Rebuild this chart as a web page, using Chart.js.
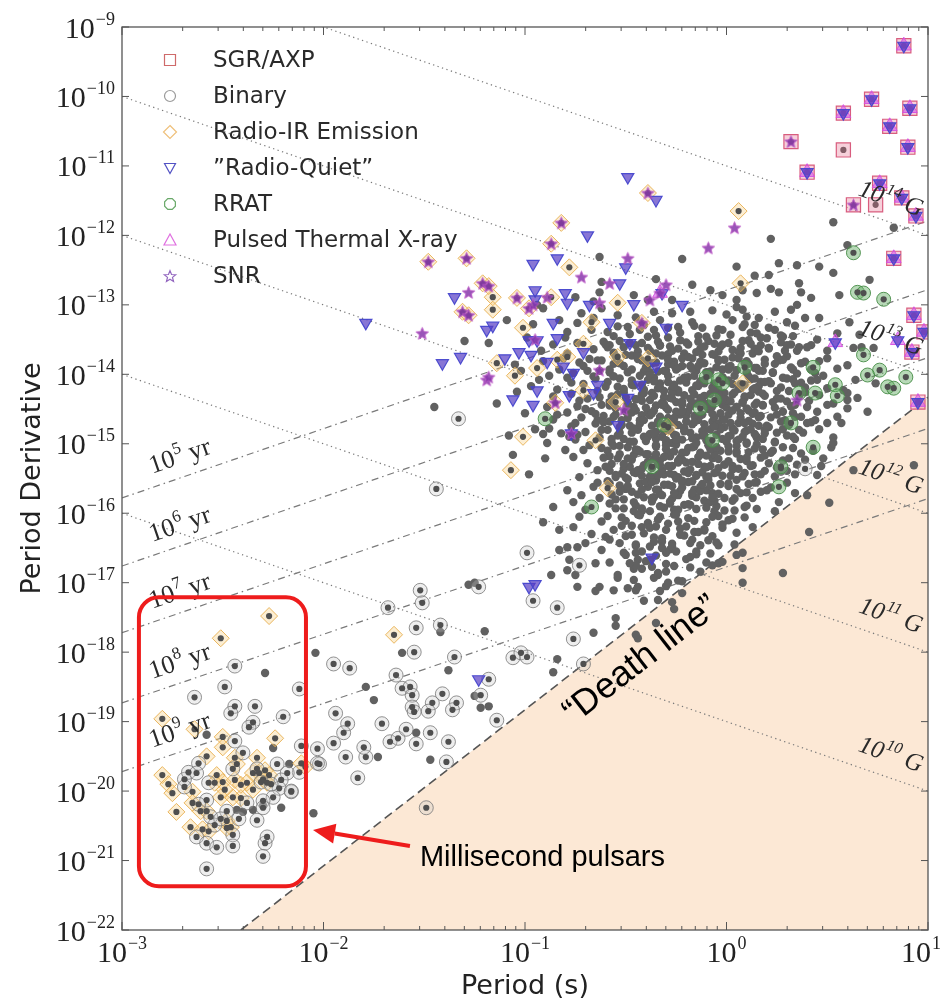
<!DOCTYPE html>
<html>
<head>
<meta charset="utf-8">
<script src="https://cdn.jsdelivr.net/npm/chart.js@4.4.1/dist/chart.umd.min.js"></script>
<style>
  html, body { margin: 0; padding: 0; background: #fff; }
  canvas { display: block; }
</style>
</head>
<body>
<canvas id="ppdot" width="943" height="1002"></canvas>
<script>
// All coordinates below are [log10 P (s), log10 Pdot (s/s)].

const periodDecades = [-3, -2, -1, 0, 1];
const pdotDecades = [-9, -10, -11, -12, -13, -14, -15, -16, -17, -18, -19, -20, -21, -22];

// constant magnetic field lines: log10(P * Pdot)
const fieldExponents = [14, 13, 12, 11, 10];
const fieldProducts = [-11, -13, -15, -17, -19];

// characteristic age lines: log10 Pdot at P = 1 ms and at P = 10 s
const ageExponents = [5, 6, 7, 8, 9];
const ageLeft = [-15.78, -16.76, -17.72, -18.73, -19.72];
const ageRight = [-11.79, -12.78, -13.76, -14.78, -15.79];

// pulsar death line end points
const deathLine = [[-2.41, -22.0], [1.0, -14.33]];

// annotation box around the millisecond pulsars, and its arrow
const mspBox = [[-2.916, -17.21], [-2.087, -21.37]];
const mspArrow = [[-1.571, -20.79], [-2.052, -20.56]];

const legendLabels = ['SGR/AXP', 'Binary', 'Radio-IR Emission', '\u201DRadio-Quiet\u201D', 'RRAT', 'Pulsed Thermal X-ray', 'SNR'];

// ordinary radio pulsars, upper part of the population
const youngField = [
[-0.63,-12.31],[-0.22,-12.34],[0.05,-12.45],[0.22,-12.05],[0.26,-12.40],[0.46,-12.45],[0.60,-12.14],[0.53,-11.81],[0.83,-11.89],[0.35,-12.43],[0.14,-12.58],
[-0.62,-12.67],[-0.63,-12.82],[-0.46,-12.86],[-0.35,-12.63],[-0.08,-12.79],[-0.02,-12.86],[0.05,-12.93],[0.15,-12.83],[0.21,-12.57],[0.22,-12.77],[0.26,-12.82],[0.36,-12.69],[0.37,-12.82],[0.42,-12.90],[0.53,-12.54],[0.71,-12.64],[0.56,-12.86],[-0.75,-12.89],[-0.17,-12.71],[-0.39,-12.93],[0.08,-12.79],[-0.27,-12.93],
[-0.36,-13.10],[-0.27,-13.12],[0.05,-13.03],[0.10,-13.17],[-0.17,-13.25],[-0.24,-13.32],[-0.12,-13.33],[-0.02,-13.36],[0.08,-13.32],[0.08,-13.07],[0.03,-13.22],[0.24,-13.10],[0.35,-13.00],[0.39,-13.19],[0.32,-13.07],[0.24,-13.36],[0.20,-13.48],[0.28,-13.46],[0.33,-13.45],[0.45,-13.50],[0.55,-13.41],[-1.09,-13.22],[-0.91,-13.05],[-0.94,-13.00],[-0.66,-13.19],[-0.54,-13.15],[-0.79,-13.39],[-0.74,-13.26],[-0.59,-13.39],[-0.49,-13.32],[-0.43,-13.36],[-0.36,-13.36],[-0.39,-13.46],[-0.33,-13.22],[-0.07,-13.08],[-0.05,-13.44],[-0.18,-13.10],[0.14,-13.29],[0.17,-13.47],[0.46,-13.19],[0.61,-13.25],[0.66,-13.43],
[-0.14,-13.45],[-0.45,-13.18],[0.12,-13.40],[-0.29,-13.47],[-0.56,-13.45],[0.00,-13.14],[0.30,-13.25],[0.16,-13.19]
];

// ordinary radio pulsars mixed in with the young objects
const youngInfill = [
[-1.02,-13.95],[-0.97,-14.17],[-0.92,-13.66],[-0.88,-14.02],[-0.84,-14.58],[-0.80,-13.47],[-0.77,-14.12],[-0.73,-13.83],[-0.70,-14.50],[-0.67,-13.36],[-0.64,-14.66],[-0.69,-13.95],[-0.75,-14.70],[-0.81,-13.77],[-0.86,-14.32],[-0.91,-14.86],[-1.00,-14.56],[-0.96,-13.28],[-0.72,-13.12],[-0.83,-13.22],[-0.62,-13.05],[-0.66,-12.95],[-0.58,-13.58],[-0.88,-14.78],[-0.78,-14.90],[-1.04,-14.25],[-0.99,-13.47]
];

// ordinary radio pulsars, the dense core
const mainCloud = [
[-1.30,-13.52],[-1.18,-13.55],[-1.05,-13.86],[-0.91,-13.81],[-0.86,-13.57],[-0.83,-13.93],
[-0.79,-13.70],[-0.74,-13.55],[-0.71,-13.88],[-0.66,-13.64],[-0.63,-13.95],[-0.68,-13.78],[-0.61,-13.53],[-0.76,-13.98],[-0.64,-13.80],
[-0.59,-13.61],[-0.56,-13.85],[-0.53,-13.52],[-0.50,-13.72],[-0.47,-13.93],[-0.45,-13.58],[-0.42,-13.80],[-0.58,-13.97],[-0.51,-13.88],[-0.44,-13.67],[-0.55,-13.74],[-0.41,-13.96],[-0.48,-13.55],
[-0.39,-13.62],[-0.37,-13.84],[-0.34,-13.53],[-0.32,-13.73],[-0.30,-13.95],[-0.28,-13.60],[-0.26,-13.82],[-0.23,-13.51],[-0.21,-13.70],[-0.38,-13.97],[-0.35,-13.70],[-0.29,-13.86],[-0.25,-13.93],[-0.22,-13.88],[-0.33,-13.58],[-0.27,-13.66],
[-0.19,-13.57],[-0.17,-13.77],[-0.15,-13.95],[-0.13,-13.63],[-0.11,-13.84],[-0.09,-13.52],[-0.07,-13.71],[-0.05,-13.90],[-0.03,-13.60],[-0.01,-13.79],[-0.18,-13.88],[-0.14,-13.53],[-0.10,-13.97],[-0.06,-13.56],[-0.02,-13.93],[-0.12,-13.72],[-0.04,-13.67],
[0.01,-13.55],[0.03,-13.76],[0.05,-13.94],[0.07,-13.62],[0.09,-13.84],[0.11,-13.51],[0.13,-13.70],[0.15,-13.91],[0.17,-13.58],[0.19,-13.79],[0.02,-13.88],[0.06,-13.68],[0.10,-13.97],[0.14,-13.63],[0.18,-13.95],[0.08,-13.52],
[0.21,-13.63],[0.24,-13.85],[0.27,-13.54],[0.30,-13.74],[0.33,-13.93],[0.36,-13.61],[0.39,-13.82],[0.23,-13.97],[0.29,-13.66],[0.35,-13.99],[0.26,-13.80],[0.32,-13.57],
[0.42,-13.58],[0.46,-13.81],[0.50,-13.66],[0.55,-13.92],[0.44,-13.98],
[-1.14,-14.42],[-0.93,-14.08],[-0.89,-14.47],[-0.84,-14.22],
[-0.79,-14.05],[-0.77,-14.28],[-0.74,-14.46],[-0.71,-14.14],[-0.69,-14.35],[-0.66,-14.03],[-0.64,-14.24],[-0.62,-14.44],[-0.73,-14.38],
[-0.59,-14.11],[-0.57,-14.32],[-0.55,-14.49],[-0.53,-14.06],[-0.51,-14.25],[-0.49,-14.43],[-0.47,-14.15],[-0.45,-14.36],[-0.43,-14.02],[-0.41,-14.22],[-0.58,-14.40],[-0.54,-14.18],[-0.50,-14.33],[-0.46,-14.47],[-0.42,-14.29],[-0.56,-14.03],
[-0.39,-14.08],[-0.37,-14.27],[-0.35,-14.45],[-0.33,-14.13],[-0.31,-14.33],[-0.29,-14.02],[-0.27,-14.21],[-0.25,-14.40],[-0.23,-14.09],[-0.21,-14.30],[-0.38,-14.37],[-0.34,-14.20],[-0.30,-14.48],[-0.26,-14.15],[-0.22,-14.44],[-0.36,-14.05],[-0.32,-14.41],[-0.28,-14.34],[-0.24,-14.26],[-0.20,-14.12],
[-0.19,-14.04],[-0.17,-14.23],[-0.15,-14.42],[-0.13,-14.10],[-0.11,-14.31],[-0.09,-14.01],[-0.07,-14.19],[-0.05,-14.38],[-0.03,-14.07],[-0.01,-14.27],[-0.18,-14.35],[-0.14,-14.17],[-0.10,-14.46],[-0.06,-14.13],[-0.02,-14.44],[-0.16,-14.02],[-0.12,-14.39],[-0.08,-14.28],[-0.04,-14.22],[0.00,-14.48],
[0.01,-14.09],[0.03,-14.29],[0.05,-14.47],[0.07,-14.14],[0.09,-14.34],[0.11,-14.03],[0.13,-14.22],[0.15,-14.41],[0.17,-14.11],[0.19,-14.31],[0.02,-14.39],[0.06,-14.21],[0.10,-14.49],[0.14,-14.06],[0.18,-14.44],[0.04,-14.02],[0.08,-14.41],[0.12,-14.30],[0.16,-14.25],
[0.22,-14.13],[0.25,-14.35],[0.28,-14.05],[0.31,-14.24],[0.34,-14.44],[0.37,-14.12],[0.24,-14.48],[0.30,-14.39],[0.36,-14.31],[0.27,-14.19],[0.33,-14.07],[0.39,-14.26],
[0.42,-14.09],[0.46,-14.30],[0.53,-14.42],[0.48,-14.02],
[-1.08,-14.88],[-0.95,-14.79],[-0.86,-14.65],
[-0.79,-14.55],[-0.77,-14.75],[-0.75,-14.94],[-0.72,-14.62],[-0.70,-14.83],[-0.67,-14.53],[-0.65,-14.71],[-0.63,-14.91],[-0.61,-14.60],[-0.74,-14.87],
[-0.59,-14.80],[-0.57,-14.99],[-0.55,-14.58],[-0.53,-14.76],[-0.51,-14.93],[-0.49,-14.63],[-0.47,-14.84],[-0.45,-14.52],[-0.43,-14.71],[-0.41,-14.90],[-0.58,-14.68],[-0.54,-14.88],[-0.50,-14.54],[-0.46,-14.97],[-0.42,-14.59],[-0.52,-14.66],[-0.44,-14.80],[-0.48,-14.74],
[-0.39,-14.55],[-0.37,-14.74],[-0.35,-14.93],[-0.33,-14.61],[-0.31,-14.82],[-0.29,-14.51],[-0.27,-14.69],[-0.25,-14.88],[-0.23,-14.58],[-0.21,-14.78],[-0.38,-14.86],[-0.34,-14.68],[-0.30,-14.97],[-0.26,-14.63],[-0.22,-14.94],[-0.36,-14.52],[-0.32,-14.90],[-0.28,-14.81],[-0.24,-14.73],[-0.20,-14.60],[-0.27,-14.99],
[-0.19,-14.53],[-0.17,-14.72],[-0.15,-14.91],[-0.13,-14.59],[-0.11,-14.80],[-0.09,-14.50],[-0.07,-14.68],[-0.05,-14.87],[-0.03,-14.56],[-0.01,-14.76],[-0.18,-14.84],[-0.14,-14.66],[-0.10,-14.95],[-0.06,-14.62],[-0.02,-14.93],[-0.12,-14.88],[-0.08,-14.79],[-0.04,-14.71],[0.00,-14.97],
[0.01,-14.58],[0.03,-14.78],[0.05,-14.96],[0.07,-14.63],[0.09,-14.83],[0.11,-14.52],[0.13,-14.71],[0.15,-14.90],[0.17,-14.60],[0.19,-14.80],[0.02,-14.88],[0.06,-14.70],[0.10,-14.98],[0.14,-14.55],[0.18,-14.93],[0.08,-14.90],[0.12,-14.79],[0.16,-14.74],
[0.22,-14.62],[0.25,-14.84],[0.28,-14.54],[0.31,-14.73],[0.34,-14.93],[0.37,-14.61],[0.24,-14.97],[0.30,-14.88],[0.36,-14.80],[0.27,-14.68],[0.33,-14.56],[0.21,-14.76],
[0.46,-14.79],[0.53,-14.91],[0.57,-14.70],
[-0.59,-15.10],[-0.57,-15.29],[-0.55,-15.48],[-0.53,-15.15],[-0.51,-15.36],[-0.49,-15.05],[-0.47,-15.23],[-0.45,-15.42],[-0.43,-15.11],[-0.41,-15.31],[-0.58,-15.39],[-0.54,-15.21],[-0.50,-15.49],[-0.46,-15.16],[-0.42,-15.46],[-0.56,-15.03],[-0.52,-15.43],[-0.48,-15.33],
[-0.39,-15.15],[-0.37,-15.35],[-0.35,-15.04],[-0.33,-15.24],[-0.31,-15.44],[-0.29,-15.12],[-0.27,-15.32],[-0.25,-15.01],[-0.23,-15.20],[-0.21,-15.40],[-0.38,-15.47],[-0.34,-15.29],[-0.30,-15.08],[-0.26,-15.45],[-0.22,-15.13],[-0.36,-15.22],[-0.32,-15.38],[-0.28,-15.18],[-0.24,-15.48],[-0.20,-15.27],
[-0.19,-15.06],[-0.17,-15.26],[-0.15,-15.45],[-0.13,-15.13],[-0.11,-15.33],[-0.09,-15.02],[-0.07,-15.21],[-0.05,-15.41],[-0.03,-15.10],[-0.01,-15.30],[-0.18,-15.37],[-0.14,-15.19],[-0.10,-15.48],[-0.06,-15.15],[-0.02,-15.46],[-0.16,-15.04],[-0.12,-15.41],[-0.08,-15.32],
[0.01,-15.11],[0.03,-15.32],[0.05,-15.03],[0.07,-15.22],[0.09,-15.42],[0.11,-15.12],[0.13,-15.31],[0.15,-15.01],[0.17,-15.20],[0.19,-15.39],[0.02,-15.46],[0.06,-15.36],[0.10,-15.25],[0.14,-15.44],[0.18,-15.08],
[0.22,-15.13],[0.25,-15.34],[0.28,-15.05],[0.34,-15.44],[0.37,-15.14],[0.24,-15.47],[0.30,-15.39],[0.35,-15.30],
[0.43,-15.10],[0.47,-15.32],[0.52,-15.05],[0.45,-15.45],
[-0.59,-15.54],[-0.57,-15.73],[-0.55,-15.93],[-0.53,-15.60],[-0.51,-15.80],[-0.49,-15.51],[-0.47,-15.69],[-0.45,-15.89],[-0.43,-15.57],[-0.41,-15.77],[-0.58,-15.86],[-0.50,-15.65],[-0.46,-15.97],[-0.42,-15.93],
[-0.39,-15.62],[-0.37,-15.83],[-0.35,-15.53],[-0.33,-15.72],[-0.31,-15.92],[-0.29,-15.59],[-0.27,-15.79],[-0.25,-15.50],[-0.23,-15.68],[-0.21,-15.88],[-0.38,-15.97],[-0.34,-15.66],[-0.26,-15.95],[-0.22,-15.56],[-0.36,-15.77],[-0.28,-15.86],[-0.24,-15.74],
[-0.19,-15.55],[-0.17,-15.75],[-0.15,-15.94],[-0.13,-15.62],[-0.11,-15.82],[-0.09,-15.52],[-0.07,-15.71],[-0.05,-15.90],[-0.03,-15.58],[-0.01,-15.78],[-0.18,-15.88],[-0.10,-15.67],[-0.06,-15.97],[-0.16,-15.66],[-0.08,-15.84],
[0.01,-15.61],[0.03,-15.82],[0.05,-15.52],[0.07,-15.71],[0.09,-15.91],[0.11,-15.58],[0.13,-15.78],[0.15,-15.55],[0.17,-15.69],[0.04,-15.96],
[0.22,-15.63],[0.26,-15.84],[0.30,-15.56],[0.34,-15.71],[0.24,-15.97],
[-0.59,-16.04],[-0.56,-16.24],[-0.53,-16.43],[-0.50,-16.11],[-0.47,-16.31],[-0.44,-16.02],[-0.42,-16.20],[-0.58,-16.38],[-0.52,-16.18],[-0.45,-16.47],
[-0.39,-16.14],[-0.36,-16.35],[-0.33,-16.05],[-0.30,-16.24],[-0.27,-16.44],[-0.24,-16.12],[-0.21,-16.32],[-0.38,-16.48],[-0.32,-16.41],[-0.26,-16.02],[-0.23,-16.22],[-0.35,-16.19],
[-0.19,-16.07],[-0.16,-16.27],[-0.13,-16.46],[-0.10,-16.13],[-0.07,-16.33],[-0.04,-16.04],[-0.02,-16.21],[-0.17,-16.38],[-0.11,-16.25],[-0.05,-16.42],
[0.01,-16.10],[0.05,-16.28],[0.09,-16.06],[0.13,-16.20],[0.04,-16.45],
[-0.58,-16.71],[-0.54,-16.93],[-0.50,-16.60],[-0.46,-16.80],[-0.42,-16.55],
[-0.38,-16.67],[-0.34,-16.89],[-0.30,-16.57],[-0.26,-16.76],[-0.22,-16.98],[-0.28,-16.52],
[-0.18,-16.63],[-0.13,-16.84],[-0.08,-16.58],[-0.04,-16.72],[-0.15,-16.55],
[-0.41,-17.26],[-0.33,-17.12],[-0.26,-17.38],[-0.30,-17.05],[-0.49,-17.08],[-0.55,-17.62],[-0.44,-17.80],[-0.35,-17.58]
];

// further ordinary pulsars filling the core
const coreInfill = [
[-0.54,-13.31],[-0.48,-13.42],[-0.41,-13.29],[-0.35,-13.44],[-0.29,-13.33],[-0.23,-13.40],[-0.16,-13.30],[-0.10,-13.46],[-0.04,-13.35],[0.02,-13.43],[0.09,-13.28],[0.15,-13.41],[0.21,-13.33],[0.27,-13.44],[0.34,-13.30],
[-0.60,-13.57],[-0.56,-13.69],[-0.51,-13.61],[-0.47,-13.73],[-0.42,-13.55],[-0.38,-13.66],[-0.33,-13.59],[-0.29,-13.71],[-0.24,-13.63],[-0.20,-13.54],[-0.15,-13.68],[-0.11,-13.60],[-0.06,-13.72],[-0.02,-13.57],[0.03,-13.65],[0.07,-13.70],[0.12,-13.56],[0.16,-13.67],[0.21,-13.62],[0.25,-13.74],[0.30,-13.58],[0.35,-13.66],[0.40,-13.61],
[-0.62,-13.80],[-0.58,-13.93],[-0.53,-13.84],[-0.49,-13.97],[-0.44,-13.78],[-0.40,-13.90],[-0.35,-13.83],[-0.31,-13.95],[-0.26,-13.87],[-0.22,-13.77],[-0.17,-13.92],[-0.13,-13.82],[-0.08,-13.96],[-0.04,-13.79],[0.01,-13.89],[0.05,-13.94],[0.10,-13.81],[0.14,-13.91],[0.19,-13.85],[0.23,-13.98],[0.28,-13.79],[0.32,-13.90],[0.37,-13.84],[0.42,-13.93],
[-0.65,-14.06],[-0.60,-14.18],[-0.56,-14.03],[-0.51,-14.21],[-0.47,-14.09],[-0.42,-14.15],[-0.38,-14.02],[-0.33,-14.19],[-0.29,-14.11],[-0.24,-14.23],[-0.20,-14.05],[-0.15,-14.16],[-0.11,-14.08],[-0.06,-14.22],[-0.02,-14.04],[0.03,-14.14],[0.07,-14.20],[0.12,-14.07],[0.16,-14.17],[0.21,-14.10],[0.25,-14.24],[0.30,-14.06],[0.34,-14.13],[0.39,-14.19],[0.45,-14.08],
[-0.63,-14.33],[-0.58,-14.45],[-0.54,-14.29],[-0.49,-14.41],[-0.45,-14.36],[-0.40,-14.48],[-0.36,-14.31],[-0.31,-14.43],[-0.27,-14.27],[-0.22,-14.39],[-0.18,-14.46],[-0.13,-14.34],[-0.09,-14.42],[-0.04,-14.30],[0.00,-14.37],[0.05,-14.47],[0.09,-14.32],[0.14,-14.44],[0.18,-14.28],[0.23,-14.40],[0.27,-14.35],[0.32,-14.46],[0.36,-14.30],[0.41,-14.38],
[-0.65,-14.57],[-0.61,-14.69],[-0.56,-14.61],[-0.52,-14.73],[-0.47,-14.55],[-0.43,-14.66],[-0.38,-14.59],[-0.34,-14.71],[-0.29,-14.63],[-0.25,-14.54],[-0.20,-14.68],[-0.16,-14.60],[-0.11,-14.72],[-0.07,-14.57],[-0.02,-14.65],[0.02,-14.70],[0.07,-14.56],[0.11,-14.67],[0.16,-14.62],[0.20,-14.74],[0.25,-14.58],[0.29,-14.66],[0.34,-14.61],[0.40,-14.70],
[-0.62,-14.80],[-0.57,-14.93],[-0.53,-14.84],[-0.48,-14.97],[-0.44,-14.78],[-0.39,-14.90],[-0.35,-14.83],[-0.30,-14.95],[-0.26,-14.87],[-0.21,-14.77],[-0.17,-14.92],[-0.12,-14.82],[-0.08,-14.96],[-0.03,-14.79],[0.01,-14.89],[0.06,-14.94],[0.10,-14.81],[0.15,-14.91],[0.19,-14.85],[0.24,-14.98],[0.28,-14.79],[0.33,-14.90],[0.38,-14.84],
[-0.62,-15.06],[-0.58,-15.18],[-0.53,-15.03],[-0.49,-15.21],[-0.44,-15.09],[-0.40,-15.15],[-0.35,-15.02],[-0.31,-15.19],[-0.26,-15.11],[-0.22,-15.23],[-0.17,-15.05],[-0.13,-15.16],[-0.08,-15.08],[-0.04,-15.22],[0.01,-15.04],[0.05,-15.14],[0.10,-15.20],[0.14,-15.07],[0.19,-15.17],[0.23,-15.10],[0.28,-15.24],[0.33,-15.06],
[-0.60,-15.33],[-0.55,-15.45],[-0.51,-15.29],[-0.46,-15.41],[-0.42,-15.36],[-0.37,-15.48],[-0.33,-15.31],[-0.28,-15.43],[-0.24,-15.27],[-0.19,-15.39],[-0.15,-15.46],[-0.10,-15.34],[-0.06,-15.42],[-0.01,-15.30],[0.03,-15.37],[0.08,-15.47],[0.12,-15.32],[0.17,-15.44],[0.21,-15.28],[0.27,-15.40],
[-0.58,-15.57],[-0.53,-15.69],[-0.49,-15.61],[-0.44,-15.73],[-0.40,-15.55],[-0.35,-15.66],[-0.31,-15.59],[-0.26,-15.71],[-0.22,-15.63],[-0.17,-15.54],[-0.13,-15.68],[-0.08,-15.60],[-0.04,-15.72],[0.01,-15.57],[0.05,-15.65],[0.10,-15.70],[0.14,-15.56],[0.20,-15.67],
[-0.55,-15.80],[-0.51,-15.93],[-0.46,-15.84],[-0.42,-15.97],[-0.37,-15.78],[-0.33,-15.90],[-0.28,-15.83],[-0.24,-15.95],[-0.19,-15.87],[-0.15,-15.77],[-0.10,-15.92],[-0.06,-15.82],[-0.01,-15.96],[0.04,-15.79],[0.10,-15.89],[0.15,-15.94],
[-0.52,-16.06],[-0.47,-16.18],[-0.43,-16.03],[-0.38,-16.21],[-0.34,-16.09],[-0.29,-16.15],[-0.25,-16.02],[-0.20,-16.19],[-0.16,-16.11],[-0.11,-16.23],[-0.07,-16.05],[-0.02,-16.16],[0.03,-16.08],
[-0.50,-16.33],[-0.45,-16.45],[-0.41,-16.29],[-0.36,-16.41],[-0.32,-16.36],[-0.27,-16.48],[-0.23,-16.31],[-0.18,-16.43],[-0.14,-16.27],[-0.09,-16.39],[-0.04,-16.46],
[-0.45,-16.57],[-0.40,-16.69],[-0.35,-16.61],[-0.30,-16.73],[-0.25,-16.55],[-0.20,-16.66],[-0.15,-16.59],[-0.10,-16.71],
[-0.42,-16.80],[-0.36,-16.93],[-0.30,-16.84],[-0.24,-16.97],[-0.18,-16.78]
];

// the most crowded part of the core
const coreCentre = [
[-0.44,-13.74],[-0.39,-13.86],[-0.34,-13.96],[-0.29,-13.79],[-0.24,-13.91],[-0.19,-13.75],[-0.14,-13.88],[-0.09,-13.97],[-0.04,-13.81],[0.01,-13.93],[0.06,-13.77],[0.11,-13.85],[0.16,-13.95],
[-0.46,-14.16],[-0.41,-14.27],[-0.36,-14.10],[-0.31,-14.24],[-0.26,-14.18],[-0.21,-14.05],[-0.16,-14.29],[-0.11,-14.13],[-0.06,-14.22],[-0.01,-14.08],[0.04,-14.26],[0.09,-14.15],[0.14,-14.20],[0.19,-14.11],
[-0.47,-14.50],[-0.42,-14.38],[-0.37,-14.56],[-0.32,-14.44],[-0.27,-14.35],[-0.22,-14.53],[-0.17,-14.41],[-0.12,-14.58],[-0.07,-14.46],[-0.02,-14.36],[0.03,-14.52],[0.08,-14.40],[0.13,-14.57],[0.18,-14.45],
[-0.46,-14.78],[-0.41,-14.66],[-0.36,-14.85],[-0.31,-14.72],[-0.26,-14.64],[-0.21,-14.82],[-0.16,-14.69],[-0.11,-14.87],[-0.06,-14.75],[-0.01,-14.65],[0.04,-14.81],[0.09,-14.70],[0.14,-14.86],
[-0.45,-15.08],[-0.40,-14.96],[-0.35,-15.15],[-0.30,-15.02],[-0.25,-14.94],[-0.20,-15.12],[-0.15,-14.99],[-0.10,-15.17],[-0.05,-15.05],[0.00,-14.95],[0.05,-15.11],[0.10,-15.00],
[-0.44,-15.38],[-0.39,-15.26],[-0.34,-15.45],[-0.29,-15.32],[-0.24,-15.24],[-0.19,-15.42],[-0.14,-15.29],[-0.09,-15.47],[-0.04,-15.35],[0.01,-15.25],
[-0.42,-15.66],[-0.37,-15.55],[-0.32,-15.74],[-0.27,-15.61],[-0.22,-15.53],[-0.17,-15.71],[-0.12,-15.58],[-0.07,-15.77]
];

// ordinary radio pulsars at the edges of the core
const cloudEdge = [
[0.63,-13.62],[0.67,-13.61],[0.73,-13.62],[0.50,-13.77],[0.60,-13.87],[0.64,-14.08],[0.74,-14.13],[0.60,-14.27],[0.65,-14.34],[0.50,-14.44],[0.45,-14.54],[0.55,-14.61],[0.60,-14.49],[0.70,-14.54],[0.50,-14.70],[0.42,-14.69],[0.40,-14.47],[0.44,-14.66],[0.53,-14.99],[0.48,-15.21],[0.39,-15.23],[0.27,-15.38],[0.31,-15.21],[0.58,-14.23],[0.60,-14.37],[0.50,-14.20],
[0.63,-15.38],[0.93,-15.31],[0.40,-15.74],[0.51,-15.85],[0.41,-16.27],[0.05,-16.60],[0.08,-16.57],[0.08,-16.79],[0.28,-16.86],[0.08,-17.00],[-0.07,-16.75],[-0.02,-16.70],
[-0.74,-17.06],[-0.65,-17.12],[-0.79,-16.82],[-0.74,-16.49],[-0.62,-16.53],[-0.51,-16.57],[-0.44,-16.67],[-0.34,-16.86],[-0.34,-17.25],[-0.44,-17.06],[-0.56,-17.11],[-0.32,-16.50],[-0.45,-17.75],[-0.29,-17.00],[-0.22,-17.15],[-0.27,-17.28],[-0.45,-16.75],[-0.37,-16.77],
[-0.98,-15.44],[-0.89,-14.99],[-0.90,-15.21],[-0.82,-14.85],[-0.80,-15.09],[-0.76,-15.19],[-0.71,-15.09],[-0.69,-15.28],[-0.73,-15.48],[-0.64,-15.38],[-0.64,-15.56],[-0.79,-15.67],[-0.72,-15.74],[-0.76,-15.84],[-0.63,-15.78],[-0.86,-15.91],[-0.91,-16.13],[-0.83,-16.24],[-0.76,-16.20],[-0.73,-16.05],[-0.83,-16.53],[-0.79,-16.49],[-0.78,-16.67],[-0.70,-16.43],[-0.65,-16.72],[-0.60,-16.34],[-0.75,-16.89],[-0.87,-16.89],[-0.63,-17.06],[-0.54,-16.89],[-0.48,-16.72],[-0.46,-16.96],[-0.45,-17.11],
[-0.68,-15.02],[-0.66,-15.62],[-0.70,-15.95],[-0.62,-16.12],[-0.67,-16.30],[-0.61,-15.20]
];

// ordinary pulsars between the core and the millisecond group
const sparseField = [
[-2.29,-18.30],[-2.58,-19.19],[-2.25,-19.38],[-2.17,-19.61],[-2.30,-20.21],[-2.21,-20.24],[-2.05,-20.32],[-2.43,-20.27],[-2.40,-20.30],[-2.35,-20.27],[-2.04,-18.01],[-1.79,-18.50],[-1.75,-18.69],[-1.25,-18.63],[-1.22,-18.80],[-1.18,-18.78],[-1.54,-19.16],[-1.73,-19.51],[-1.47,-19.55],[-1.20,-17.70],[-1.42,-17.71],[-1.38,-18.26],[-0.86,-18.29],[-0.84,-18.10],[-0.66,-17.72],[-0.55,-17.51],[-1.61,-18.01],[-1.25,-17.00],[-1.45,-14.47],[-1.06,-15.16],[-1.28,-17.03]
];

const binaryPulsars = [
[-1.33,-14.64],[-1.44,-15.65],[-1.52,-17.11],[-1.51,-17.29],[-1.68,-17.36],[-1.23,-17.06],[-0.96,-17.26],[-0.84,-17.36],[-0.99,-16.57],[-0.73,-16.75],[-1.42,-17.61],[-1.54,-17.65],[-0.76,-17.81],[-1.55,-18.00],[-1.35,-18.07],[-1.95,-18.17],[-1.87,-18.23],[-1.64,-18.33],[-1.06,-18.08],[-1.02,-18.01],[-0.99,-18.07],[-0.71,-18.17],[-1.61,-18.52],[-1.57,-18.50],[-1.56,-18.62],[-1.41,-18.60],[-1.22,-18.62],[-1.18,-18.39],[-1.94,-18.88],[-1.88,-19.03],[-1.90,-19.16],[-1.71,-19.03],[-1.56,-18.79],[-1.55,-18.86],[-1.46,-18.73],[-1.48,-18.85],[-1.34,-18.73],[-1.36,-18.83],[-1.14,-18.98],[-1.95,-19.31],[-1.89,-19.51],[-1.79,-19.51],[-1.80,-19.37],[-1.67,-19.29],[-1.63,-19.24],[-1.59,-19.11],[-1.54,-19.32],[-1.47,-19.16],[-1.38,-19.29],[-2.12,-18.53],[-2.11,-19.35],[-2.03,-19.39],[-1.83,-19.81],[-1.39,-19.58],[-2.02,-19.61],[-2.12,-19.73],[-1.49,-20.24],[-2.16,-20.01],
[-2.44,-18.20],[-2.49,-18.50],[-2.64,-18.65],[-2.44,-18.78],[-2.46,-18.88],[-2.34,-18.78],[-2.35,-19.01],[-2.37,-19.08],[-2.20,-18.93],[-2.44,-19.28],[-2.03,-19.60],[-2.23,-19.61],[-2.18,-19.74],[-2.21,-19.84],[-2.22,-19.96],[-2.16,-20.00],[-2.25,-20.09],[-2.30,-20.14],[-2.30,-20.24],[-2.33,-20.42],[-2.40,-19.45],[-2.45,-19.68],[-2.62,-19.60],[-2.69,-19.83],[-2.67,-19.73],[-2.63,-19.74],[-2.57,-19.88],[-2.58,-20.13],[-2.62,-20.19],[-2.54,-20.49],[-2.56,-20.37],[-2.45,-20.63],[-2.63,-20.66],[-2.58,-20.75],[-2.53,-20.81],[-2.45,-20.79],[-2.29,-20.75],[-2.28,-20.66],[-2.30,-20.94],[-2.58,-21.12],[-2.33,-19.68],[-2.31,-19.87],[-2.38,-20.17],[-2.42,-20.40],[-2.48,-20.29],[-2.51,-20.40],[-2.69,-19.94],[-2.26,-19.90],
[0.39,-15.36],[0.27,-15.35]
];

const radioIrPulsars = [
[0.06,-11.65],[0.07,-12.69],[-0.78,-12.46],[-1.16,-12.89],[-1.16,-13.07],[-0.87,-12.89],[-0.54,-12.97],[-0.67,-13.25],[-1.01,-13.33],[-0.71,-13.56],[-1.14,-13.84],[-0.84,-13.79],[-0.79,-13.75],[-0.39,-13.77],[-0.54,-13.75],[-1.05,-14.02],[-0.94,-13.91],[-0.71,-14.23],[-0.55,-14.40],[-1.01,-14.90],[-0.65,-14.95],[-0.29,-14.76],[0.08,-14.13],[-1.07,-15.38],[-0.59,-15.64],[-1.65,-17.75],[-2.27,-17.48],[-2.51,-17.80],
[-0.82,-11.82],[-0.87,-12.12],[-1.48,-12.38],[-1.29,-12.33],[-1.21,-12.69],[-1.18,-12.73],[-1.04,-12.90],[-1.31,-13.10],[-1.28,-13.15],[-0.98,-13.05],[-0.42,-13.26],[-0.85,-14.41],[-0.39,-11.39],
[-2.80,-18.96],[-2.64,-19.11],[-2.50,-19.22],[-2.50,-19.37],[-2.24,-19.24],[-2.80,-19.77],[-2.77,-19.90],[-2.75,-20.03],[-2.73,-20.30],[-2.65,-20.01],[-2.65,-20.17],[-2.61,-20.29],[-2.58,-20.29],[-2.66,-20.52],[-2.60,-20.55],[-2.57,-20.58],[-2.58,-19.50],[-2.53,-19.77],[-2.50,-19.87],[-2.54,-19.88],[-2.49,-19.98],[-2.51,-20.09],[-2.44,-19.52],[-2.43,-19.61],[-2.44,-19.84],[-2.41,-20.10],[-2.45,-20.09],[-2.48,-20.53],[-2.48,-20.43],[-2.33,-19.52],[-2.32,-19.74],[-2.30,-19.83],[-2.29,-19.70],[-2.27,-19.77],[-2.28,-19.88],[-2.38,-19.88],[-2.35,-19.98],[-2.41,-19.91],[-2.35,-19.74],[-2.11,-19.60],[-2.09,-19.65],[-2.46,-20.52]
];

const radioQuietPulsars = [
[0.88,-9.27],[0.72,-10.04],[0.58,-10.24],[0.91,-10.17],[0.81,-10.43],[0.90,-10.73],[0.40,-11.09],[0.76,-11.25],[0.87,-11.46],[0.94,-11.72],[0.83,-12.33],[0.93,-13.15],[0.98,-13.39],[0.92,-13.68],[0.95,-14.40],[0.85,-13.51],[0.54,-13.54],
[-0.49,-11.16],[-0.35,-11.49],[-0.69,-12.00],[-0.96,-12.41],[-0.84,-12.33],[-0.50,-12.46],[-0.53,-12.69],[-1.35,-12.89],[-0.95,-12.79],[-0.95,-12.92],[-0.80,-12.83],[-0.79,-12.97],[-0.68,-13.00],[-0.46,-12.99],[-0.32,-12.83],[-0.22,-13.00],[-1.79,-13.26],[-0.86,-13.26],[-0.58,-13.26],[-0.30,-13.33],[-1.19,-13.36],[-1.16,-13.30],[-0.98,-13.51],[-0.94,-13.51],[-0.84,-13.48],[-0.48,-13.55],[-1.41,-13.84],[-1.32,-13.75],[-1.10,-13.77],[-1.03,-13.68],[-0.97,-13.72],[-0.89,-13.82],[-0.76,-13.98],[-0.81,-13.89],[-0.71,-13.68],[-0.35,-13.89],[-1.06,-14.36],[-0.96,-14.44],[-0.94,-14.23],[-0.78,-14.30],[-0.64,-14.15],[-0.66,-14.27],[-0.49,-14.34],[-0.43,-14.15],[-0.54,-14.73],[-0.77,-14.85],[-0.37,-16.64],[-0.98,-17.06],[-0.95,-17.02],[-1.23,-18.39]
];

const rratPulsars = [
[0.63,-12.25],[0.65,-12.82],[0.68,-12.83],[0.78,-12.92],[0.68,-13.72],[0.76,-13.94],[0.70,-14.01],[0.80,-14.18],[0.83,-14.20],[0.89,-14.04],[0.54,-14.15],[0.55,-14.31],[0.43,-13.90],[0.44,-14.27],[0.36,-14.27],[0.09,-13.90],[-0.02,-14.13],[0.32,-14.70],[-0.10,-14.04],[-0.04,-14.08],[-0.07,-14.95],[-0.37,-15.33],[-0.67,-15.91],[-0.90,-14.64],[-0.13,-14.49],[-0.31,-14.73],[-0.06,-14.37],[0.43,-15.05],[0.27,-15.33],[0.26,-15.62]
];

const thermalPulsars = [
[0.88,-9.27],[0.72,-10.04],[0.58,-10.24],[0.91,-10.17],[0.81,-10.43],[0.90,-10.73],[0.40,-11.09],[0.76,-11.25],[0.87,-11.46],[0.94,-11.72],[0.83,-12.33],[0.93,-13.15],[0.98,-13.39],[0.92,-13.68],[0.95,-14.40],[0.85,-13.51],[0.54,-13.54],[-0.33,-12.83]
];

const snrPulsars = [
[-0.82,-11.82],[-0.87,-12.12],[-1.48,-12.38],[-1.29,-12.33],[-0.49,-12.33],[-0.72,-12.60],[-1.21,-12.69],[-1.18,-12.73],[-1.28,-12.82],[-1.04,-12.90],[-0.89,-12.89],[-0.58,-12.69],[-0.63,-12.97],[-0.38,-12.93],[-0.33,-12.83],[-0.30,-12.71],[-1.31,-13.10],[-1.28,-13.15],[-0.98,-13.05],[-0.96,-13.00],[-1.51,-13.41],[-0.42,-13.26],[-1.19,-14.08],[-1.18,-14.04],[-0.85,-14.41],[-0.51,-14.51],[-0.09,-12.18],[0.04,-11.89],[-0.39,-11.39],[-0.95,-13.50],[0.35,-14.37],[-0.77,-14.85],[-0.63,-13.94],[0.32,-10.65],[0.63,-11.56]
];

const sgrAxpPulsars = [
[0.88,-9.27],[0.72,-10.04],[0.58,-10.24],[0.91,-10.17],[0.81,-10.43],[0.90,-10.73],[0.32,-10.65],[0.58,-10.77],[0.40,-11.09],[0.76,-11.25],[0.63,-11.56],[0.74,-11.56],[0.87,-11.46],[0.94,-11.72],[0.83,-12.33],[0.93,-13.15],[0.98,-13.39],[0.92,-13.68],[0.95,-14.40]
];

// ---------------------------------------------------------------------------
const pow10 = v => Math.pow(10, v);
const toPoints = list => list.map(([p, d]) => ({ x: pow10(p), y: pow10(d) }));

function starImage(r, fill, stroke) {
  const c = document.createElement('canvas');
  const s = Math.ceil(2 * r + 4);
  c.width = s; c.height = s;
  const g = c.getContext('2d');
  g.translate(s / 2, s / 2 + 0.6);
  g.beginPath();
  for (let i = 0; i < 10; i++) {
    const a = -Math.PI / 2 + i * Math.PI / 5;
    const rr = i % 2 ? r * 0.45 : r;
    g.lineTo(rr * Math.cos(a), rr * Math.sin(a));
  }
  g.closePath();
  g.fillStyle = fill; g.fill();
  g.lineWidth = 1; g.strokeStyle = stroke; g.stroke();
  return c;
}

const lineSet = (data, color, dash, width, order) => ({
  type: 'line', data: toPoints(data), borderColor: color, borderWidth: width,
  borderDash: dash, pointRadius: 0, fill: false, tension: 0, order
});

const ordinaryDots = [...youngField, ...youngInfill, ...mainCloud, ...coreInfill, ...coreCentre, ...cloudEdge, ...sparseField];
const flaggedDots = [...binaryPulsars, ...radioIrPulsars, ...rratPulsars, ...sgrAxpPulsars];

const datasets = [
  {
    type: 'line', data: toPoints(deathLine), borderColor: '#555', borderWidth: 1.6,
    borderDash: [9, 5], pointRadius: 0, fill: 'start', backgroundColor: '#fce8d5', tension: 0, order: 30
  },
  ...fieldProducts.map(c => lineSet([[-3, c + 3], [1, c - 1]], '#7a7a7a', [1.3, 3.4], 1.2, 28)),
  ...ageLeft.map((l, i) => lineSet([[-3, l], [1, ageRight[i]]], '#7a7a7a', [7, 4, 1.5, 4], 1.2, 27)),
  { data: toPoints(ordinaryDots), pointRadius: 4.2, backgroundColor: '#616161', borderWidth: 0, order: 20 },
  { data: toPoints(radioIrPulsars), pointStyle: 'rectRot', pointRadius: 8.5, backgroundColor: 'rgba(246,205,130,0.35)', borderColor: 'rgba(232,175,80,0.9)', borderWidth: 1, order: 16 },
  { data: toPoints(binaryPulsars), pointStyle: 'circle', pointRadius: 7, backgroundColor: 'rgba(200,200,200,0.3)', borderColor: 'rgba(120,120,120,0.8)', borderWidth: 1, order: 15 },
  { data: toPoints(rratPulsars), pointStyle: 'circle', pointRadius: 7, backgroundColor: 'rgba(95,170,95,0.45)', borderColor: 'rgba(70,140,70,0.9)', borderWidth: 1, order: 14 },
  { data: toPoints(flaggedDots), pointRadius: 3.1, backgroundColor: '#4f4f4f', borderWidth: 0, order: 13 },
  { data: toPoints(sgrAxpPulsars), pointStyle: 'rect', pointRadius: 10, backgroundColor: 'rgba(230,120,150,0.35)', borderColor: 'rgba(215,85,120,0.95)', borderWidth: 1.2, order: 12 },
  { data: toPoints(thermalPulsars), pointStyle: 'triangle', pointRadius: 8.5, backgroundColor: 'rgba(205,80,225,0.55)', borderColor: 'rgba(215,80,225,0.95)', borderWidth: 1, order: 11 },
  { data: toPoints(radioQuietPulsars), pointStyle: 'triangle', rotation: 180, pointRotation: 180, pointRadius: 7, backgroundColor: 'rgba(85,60,195,0.7)', borderColor: 'rgba(70,70,205,0.95)', borderWidth: 1.2, order: 10 },
  { data: toPoints(snrPulsars), pointStyle: starImage(6.5, 'rgba(135,55,170,0.85)', 'rgba(190,90,200,0.9)'), pointRadius: 6.5, order: 9 }
];

// ---------------------------------------------------------------------------
function drawPow(ctx, x, y, exp, suffix, f, align, maxRight) {
  ctx.font = f.base;
  const wb = ctx.measureText('10').width;
  const ws = suffix ? ctx.measureText(suffix).width : 0;
  ctx.font = f.sup;
  const we = ctx.measureText(exp).width;
  const gap = 1;
  const total = wb + gap + we + ws;
  let x0 = x;
  if (align === 'center') x0 = x - total / 2;
  else if (align === 'right') x0 = x - total;
  if (maxRight !== undefined && x0 + total > maxRight) x0 = maxRight - total;
  ctx.textAlign = 'left';
  ctx.textBaseline = 'alphabetic';
  ctx.font = f.base; ctx.fillText('10', x0, y);
  ctx.font = f.sup; ctx.fillText(exp, x0 + wb + gap, y - f.raise);
  if (suffix) { ctx.font = f.base; ctx.fillText(suffix, x0 + wb + gap + we, y); }
}

function legendMarker(ctx, kind, x, y, color) {
  ctx.save();
  ctx.beginPath();
  ctx.strokeStyle = color;
  ctx.lineWidth = 1.2;
  const r = 6.5;
  if (kind === 'square') ctx.rect(x - 5.5, y - 5.5, 11, 11);
  else if (kind === 'circle') ctx.arc(x, y, 5.5, 0, Math.PI * 2);
  else if (kind === 'diamond') { ctx.moveTo(x, y - r); ctx.lineTo(x + r, y); ctx.lineTo(x, y + r); ctx.lineTo(x - r, y); ctx.closePath(); }
  else if (kind === 'down') { ctx.moveTo(x - 5.5, y - 4.5); ctx.lineTo(x + 5.5, y - 4.5); ctx.lineTo(x, y + 5.5); ctx.closePath(); }
  else if (kind === 'up') { ctx.moveTo(x - 6, y + 5); ctx.lineTo(x + 6, y + 5); ctx.lineTo(x, y - 6); ctx.closePath(); }
  else if (kind === 'hex') { for (let i = 0; i < 8; i++) { const a = Math.PI / 8 + i * Math.PI / 4; ctx.lineTo(x + 5.8 * Math.cos(a), y + 5.8 * Math.sin(a)); } ctx.closePath(); }
  else if (kind === 'star') { for (let i = 0; i < 10; i++) { const a = -Math.PI / 2 + i * Math.PI / 5; const rr = i % 2 ? 2.6 : 6; ctx.lineTo(x + rr * Math.cos(a), y + 0.6 + rr * Math.sin(a)); } ctx.closePath(); }
  ctx.stroke();
  ctx.restore();
}

const decorations = {
  id: 'decorations',
  afterDraw(chart) {
    const { ctx, chartArea: a } = chart;
    const sx = chart.scales.x, sy = chart.scales.y;
    const X = v => sx.getPixelForValue(pow10(v));
    const Y = v => sy.getPixelForValue(pow10(v));
    ctx.save();

    // frame and inward ticks
    ctx.strokeStyle = '#555';
    ctx.lineWidth = 1.3;
    ctx.strokeRect(a.left, a.top, a.right - a.left, a.bottom - a.top);
    ctx.lineWidth = 1;
    ctx.beginPath();
    periodDecades.forEach(p => {
      const xx = X(p);
      ctx.moveTo(xx, a.bottom); ctx.lineTo(xx, a.bottom - 8);
      ctx.moveTo(xx, a.top); ctx.lineTo(xx, a.top + 8);
      if (p < 1) {
        for (let k = 2; k <= 9; k++) {
          const xm = X(p + Math.log10(k));
          ctx.moveTo(xm, a.bottom); ctx.lineTo(xm, a.bottom - 4);
          ctx.moveTo(xm, a.top); ctx.lineTo(xm, a.top + 4);
        }
      }
    });
    pdotDecades.forEach(d => {
      const yy = Y(d);
      ctx.moveTo(a.left, yy); ctx.lineTo(a.left + 7, yy);
      ctx.moveTo(a.right, yy); ctx.lineTo(a.right - 7, yy);
    });
    ctx.stroke();

    // tick labels
    ctx.fillStyle = '#222';
    const tickFont = { base: '30px "Liberation Serif", "DejaVu Serif", serif', sup: '18px "Liberation Serif", "DejaVu Serif", serif', raise: 13 };
    pdotDecades.forEach(d => drawPow(ctx, a.left - 7, Y(d) + 10.5, '\u2212' + (-d), '', tickFont, 'right'));
    periodDecades.forEach(p => drawPow(ctx, X(p), a.bottom + 32, p < 0 ? '\u2212' + (-p) : String(p), '', tickFont, 'center', chart.width - 2));

    // axis titles
    ctx.font = '27px "DejaVu Sans", sans-serif';
    ctx.textAlign = 'center';
    ctx.textBaseline = 'alphabetic';
    ctx.fillText('Period (s)', (a.left + a.right) / 2, a.bottom + 64);
    ctx.save();
    ctx.translate(33, (a.top + a.bottom) / 2);
    ctx.rotate(-Math.PI / 2);
    ctx.textBaseline = 'middle';
    ctx.fillText('Period Derivative', 0, 0);
    ctx.restore();

    // age line labels
    const ageAngle = Math.atan2(Y(-14) - Y(-15), X(0) - X(-1));
    const ageFont = { base: '26px "Liberation Serif", "DejaVu Serif", serif', sup: '17px "Liberation Serif", "DejaVu Serif", serif', raise: 11 };
    ctx.fillStyle = '#2a2a2a';
    ageExponents.forEach((e, i) => {
      const lp = -2.68;
      const ld = ageLeft[i] + (ageRight[i] - ageLeft[i]) * ((lp + 3) / 4);
      ctx.save();
      ctx.translate(X(lp), Y(ld));
      ctx.rotate(ageAngle);
      drawPow(ctx, 0, -13, String(e), ' yr', ageFont, 'center');
      ctx.restore();
    });

    // field line labels
    const fieldFont = { base: 'italic 25px "Liberation Serif", "DejaVu Serif", serif', sup: 'italic 16px "Liberation Serif", "DejaVu Serif", serif', raise: 11 };
    fieldExponents.forEach((e, i) => {
      const lp = 0.78;
      const ld = fieldProducts[i] - lp;
      ctx.save();
      ctx.translate(X(lp), Y(ld));
      ctx.rotate(-ageAngle);
      drawPow(ctx, 0, -15, String(e), ' G', fieldFont, 'center');
      ctx.restore();
    });

    // legend
    const legendKinds = ['square', 'circle', 'diamond', 'down', 'hex', 'up', 'star'];
    const legendColors = ['#cf6a6a', '#9a9a9a', '#efc07a', '#5252c4', '#68a868', '#e070e0', '#9468c0'];
    ctx.font = '23px "DejaVu Sans", sans-serif';
    ctx.textAlign = 'left';
    ctx.textBaseline = 'middle';
    legendLabels.forEach((t, i) => {
      const yy = a.top + 33 + i * 36;
      legendMarker(ctx, legendKinds[i], a.left + 48, yy, legendColors[i]);
      ctx.fillStyle = '#2a2a2a';
      ctx.fillText(t, a.left + 91, yy + 1);
    });

    // death line caption
    const [[p1, d1], [p2, d2]] = deathLine;
    const deathAngle = Math.atan2(Y(d2) - Y(d1), X(p2) - X(p1));
    const cp = -0.52;
    const cd = d1 + (d2 - d1) * (cp - p1) / (p2 - p1);
    ctx.save();
    ctx.translate(X(cp), Y(cd));
    ctx.rotate(deathAngle);
    ctx.fillStyle = '#000';
    ctx.font = '36px "Liberation Sans", Arial, sans-serif';
    ctx.textAlign = 'center';
    ctx.textBaseline = 'middle';
    ctx.fillText('\u201CDeath line\u201D', 0, 32);
    ctx.restore();

    // millisecond pulsar box, arrow and caption
    ctx.strokeStyle = '#ee1c1c';
    ctx.fillStyle = '#ee1c1c';
    ctx.lineWidth = 4;
    const bx0 = X(mspBox[0][0]), by0 = Y(mspBox[0][1]), bx1 = X(mspBox[1][0]), by1 = Y(mspBox[1][1]);
    const rad = 20;
    ctx.beginPath();
    ctx.moveTo(bx0 + rad, by0);
    ctx.lineTo(bx1 - rad, by0); ctx.arcTo(bx1, by0, bx1, by0 + rad, rad);
    ctx.lineTo(bx1, by1 - rad); ctx.arcTo(bx1, by1, bx1 - rad, by1, rad);
    ctx.lineTo(bx0 + rad, by1); ctx.arcTo(bx0, by1, bx0, by1 - rad, rad);
    ctx.lineTo(bx0, by0 + rad); ctx.arcTo(bx0, by0, bx0 + rad, by0, rad);
    ctx.closePath();
    ctx.stroke();

    const tx0 = X(mspArrow[0][0]), ty0 = Y(mspArrow[0][1]);
    const tx1 = X(mspArrow[1][0]), ty1 = Y(mspArrow[1][1]);
    const ang = Math.atan2(ty1 - ty0, tx1 - tx0);
    const headLen = 22, headHalf = 10;
    const bxh = tx1 - headLen * Math.cos(ang), byh = ty1 - headLen * Math.sin(ang);
    ctx.beginPath();
    ctx.moveTo(tx0, ty0); ctx.lineTo(bxh, byh);
    ctx.stroke();
    ctx.beginPath();
    ctx.moveTo(tx1, ty1);
    ctx.lineTo(bxh + headHalf * Math.sin(ang), byh - headHalf * Math.cos(ang));
    ctx.lineTo(bxh - headHalf * Math.sin(ang), byh + headHalf * Math.cos(ang));
    ctx.closePath();
    ctx.fill();

    ctx.fillStyle = '#000';
    ctx.font = '29px "Liberation Sans", Arial, sans-serif';
    ctx.textAlign = 'left';
    ctx.textBaseline = 'alphabetic';
    ctx.fillText('Millisecond pulsars', tx0 + 10, ty0 + 20);

    ctx.restore();
  }
};

new Chart(document.getElementById('ppdot'), {
  type: 'scatter',
  data: { datasets },
  options: {
    responsive: false,
    animation: false,
    events: [],
    layout: { padding: { left: 122, top: 27, right: 15, bottom: 72 } },
    scales: {
      x: { type: 'logarithmic', min: 1e-3, max: 10, display: false },
      y: { type: 'logarithmic', min: 1e-22, max: 1e-9, display: false }
    },
    plugins: { legend: { display: false }, tooltip: { enabled: false } }
  },
  plugins: [decorations]
});
</script>
</body>
</html>
